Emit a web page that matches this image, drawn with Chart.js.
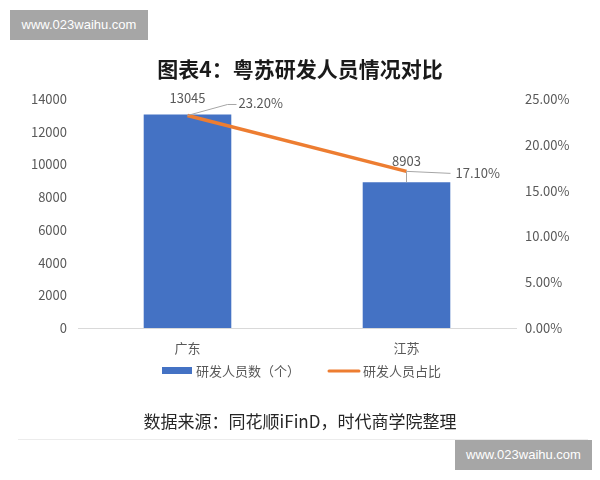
<!DOCTYPE html>
<html>
<head>
<meta charset="utf-8">
<script src="https://cdn.jsdelivr.net/npm/chart.js@4/dist/chart.umd.min.js"></script>
<style>
  body { margin: 0; background: #fff; }
  #wrap { position: relative; width: 600px; height: 480px; overflow: hidden; }
  #chart { position: absolute; left: 0; top: 0; }
  .title { position: absolute; left: 0; width: 600px; top: 54px; text-align: center;
    font: bold 21px "Noto Sans CJK SC", sans-serif; color: #1a1a1a; line-height: 28px; }
  .source { position: absolute; left: 0; width: 600px; top: 409px; text-align: center;
    font: 17px "Noto Sans CJK SC", sans-serif; color: #262626; line-height: 24px; }
  .sep { position: absolute; left: 18px; width: 570px; top: 439px; height: 1px; background: #ececec; }
  .wm { position: absolute; background: #a6a6a6; color: #fff; text-align: center;
    font: 13px "Liberation Sans", Arial, sans-serif; line-height: 30px; height: 30px; }
</style>
</head>
<body>
<div id="wrap">
  <canvas id="chart" width="600" height="480"></canvas>
  <div class="title">图表4：粤苏研发人员情况对比</div>
  <div class="source">数据来源：同花顺iFinD，时代商学院整理</div>
  <div class="sep"></div>
  <div class="wm" style="left:10px;top:10px;width:138px;">www.023waihu.com</div>
  <div class="wm" style="left:455px;top:440px;width:137px;">www.023waihu.com</div>
</div>
<script>
const provinces = ["广东", "江苏"];
const staffCount = [13045, 8903];
const staffShare = [23.2, 17.1];
const countTicks = [0, 2000, 4000, 6000, 8000, 10000, 12000, 14000];
const shareTicks = [0, 5, 10, 15, 20, 25];

const barColor = "#4472C4";
const lineColor = "#ED7D31";
const textColor = "#595959";
const tickFont = { family: "'Noto Sans CJK SC', sans-serif", size: 13 };

// value labels with leader lines, placed like the excel original
const labelPlugin = {
  id: "labels",
  afterDatasetsDraw(chart) {
    const c = chart.ctx;
    const bars = chart.getDatasetMeta(1).data;
    const pts = chart.getDatasetMeta(0).data;
    c.save();
    c.font = "13px 'Noto Sans CJK SC', sans-serif";
    c.fillStyle = textColor;
    c.strokeStyle = "#a6a6a6";
    c.lineWidth = 1;
    c.textBaseline = "middle";

    // 广东
    let b = bars[0], p = pts[0];
    c.textAlign = "center";
    c.fillText(String(staffCount[0]), b.x, b.y - 17);
    c.beginPath();
    c.moveTo(p.x, p.y);
    c.lineTo(p.x + 40, p.y - 11);
    c.lineTo(p.x + 49, p.y - 11);
    c.stroke();
    c.textAlign = "left";
    c.fillText(staffShare[0].toFixed(2) + "%", p.x + 51, p.y - 12);

    // 江苏
    b = bars[1]; p = pts[1];
    c.textAlign = "center";
    c.fillText(String(staffCount[1]), b.x, p.y - 10);
    c.beginPath();
    c.moveTo(b.x, b.y);
    c.lineTo(b.x, p.y);
    c.moveTo(p.x, p.y);
    c.lineTo(p.x + 44, p.y + 2);
    c.stroke();
    c.textAlign = "left";
    c.fillText(staffShare[1].toFixed(2) + "%", p.x + 49, p.y + 2);
    c.restore();
  },
  afterDraw(chart) {
    // legend
    const c = chart.ctx;
    c.save();
    c.font = "13px 'Noto Sans CJK SC', sans-serif";
    c.fillStyle = barColor;
    c.fillRect(162, 367, 30, 7);
    c.strokeStyle = lineColor;
    c.lineWidth = 3;
    c.lineCap = "round";
    c.beginPath();
    c.moveTo(329, 371);
    c.lineTo(359, 371);
    c.stroke();
    c.fillStyle = textColor;
    c.textBaseline = "middle";
    c.textAlign = "left";
    c.fillText(chart.data.datasets[1].label, 196, 371);
    c.fillText(chart.data.datasets[0].label, 363, 371);
    c.restore();
  }
};

new Chart(document.getElementById("chart"), {
  data: {
    labels: provinces,
    datasets: [
      {
        type: "line",
        label: "研发人员占比",
        data: staffShare,
        yAxisID: "y1",
        borderColor: lineColor,
        borderWidth: 3.5,
        pointRadius: 0,
        fill: false,
        order: 0,
      },
      {
        type: "bar",
        label: "研发人员数（个）",
        data: staffCount,
        yAxisID: "y",
        backgroundColor: barColor,
        categoryPercentage: 1,
        barPercentage: 0.4,
        order: 1,
      },
    ],
  },
  options: {
    responsive: false,
    animation: false,
    layout: { padding: { top: 99, bottom: 0, left: 0, right: 0 } },
    plugins: { legend: { display: false }, tooltip: { enabled: false } },
    scales: {
      x: {
        grid: { display: false },
        border: { display: true, color: "#d9d9d9", width: 1 },
        ticks: { color: textColor, font: tickFont, padding: 4 },
        afterFit(s) { s.height = 152; },
      },
      y: {
        position: "left",
        min: 0,
        max: 14000,
        afterBuildTicks(s) { s.ticks = countTicks.map(v => ({ value: v })); },
        grid: { display: false, drawTicks: false },
        border: { display: false },
        ticks: { color: textColor, font: tickFont, padding: 11, callback: (v) => String(v) },
        afterFit(s) { s.width = 78; },
      },
      y1: {
        position: "right",
        min: 0,
        max: 25,
        afterBuildTicks(s) { s.ticks = shareTicks.map(v => ({ value: v })); },
        grid: { display: false, drawTicks: false },
        border: { display: false },
        ticks: {
          color: textColor,
          font: tickFont,
          padding: 9,
          callback: (v) => v.toFixed(2) + "%",
        },
        afterFit(s) { s.width = 84; },
      },
    },
  },
  plugins: [labelPlugin],
});
</script>
</body>
</html>
